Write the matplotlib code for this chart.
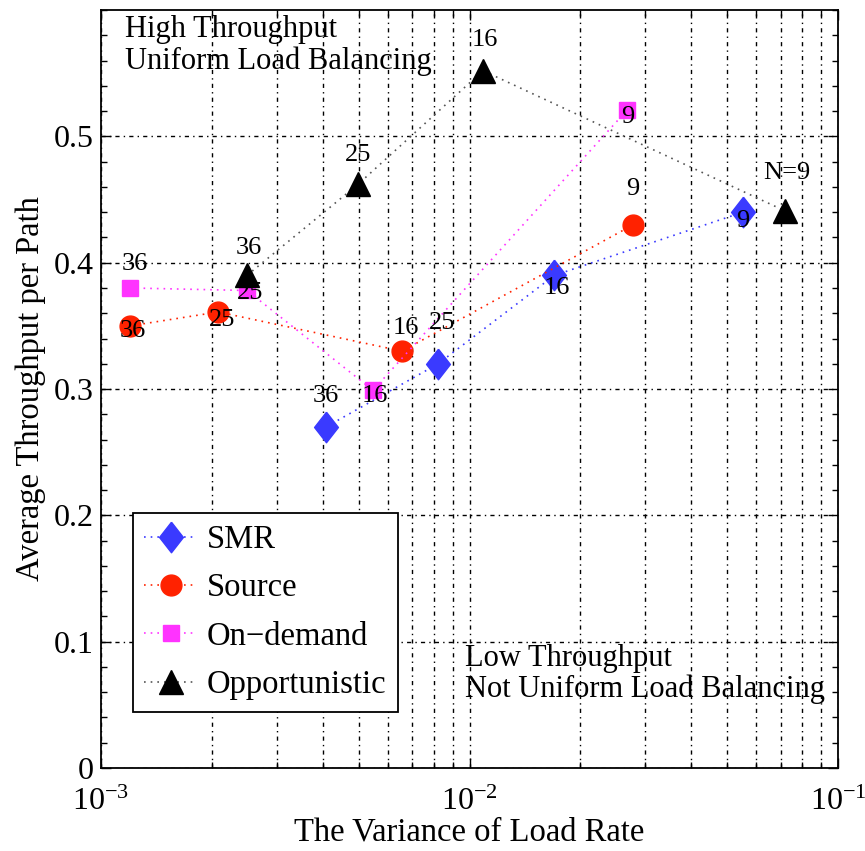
import numpy as np
import matplotlib.pyplot as plt
from matplotlib.ticker import LogLocator, MultipleLocator, NullFormatter

plt.rcParams['font.family'] = ['Liberation Serif', 'DejaVu Serif']
plt.rcParams['mathtext.fontset'] = 'custom'
plt.rcParams['mathtext.rm'] = 'Liberation Serif'
plt.rcParams['mathtext.it'] = 'Liberation Serif:italic'

# data
labels_n = ['36', '25', '16', '9']

smr_x = [0.00408, 0.00822, 0.0170, 0.0552]
smr_y = [0.270, 0.320, 0.390, 0.440]

source_x = [0.00120, 0.00208, 0.00656, 0.0278]
source_y = [0.350, 0.361, 0.330, 0.430]

ondemand_x = [0.00120, 0.00249, 0.00547, 0.0268]
ondemand_y = [0.380, 0.378, 0.299, 0.521]

opport_x = [0.00249, 0.00498, 0.01088, 0.0718]
opport_y = [0.390, 0.462, 0.552, 0.441]
opport_labels = ['36', '25', '16', 'N=9']

diamond = [(0, 1), (0.78, 0), (0, -1), (-0.78, 0), (0, 1)]

fig = plt.figure(figsize=(8.65, 8.51), dpi=100)
ax = fig.add_axes([0.1168, 0.0975, 0.852, 0.8907])

ax.set_axisbelow(True)
grid_ls = (0, (3, 3, 1, 3))
ax.grid(True, which='major', axis='both', color='k', linestyle=grid_ls, lw=1.0)
ax.grid(True, which='minor', axis='x', color='k', linestyle=grid_ls, lw=1.0)

line_ls = (0, (1, 3))
ax.plot(smr_x, smr_y, linestyle=line_ls, lw=1.2, color='#3a3aff',
        marker=diamond, markersize=22, markerfacecolor='#3a3aff',
        markeredgecolor='#3a3aff', label='SMR')
ax.plot(source_x, source_y, linestyle=line_ls, lw=1.2, color='#ff2200',
        marker='o', markersize=15, markerfacecolor='#ff2200',
        markeredgecolor='#ff2200', label='Source')
ax.plot(ondemand_x, ondemand_y, linestyle=line_ls, lw=1.2, color='#ff33ff',
        marker='s', markersize=12, markerfacecolor='#ff33ff',
        markeredgecolor='#ff33ff', label='On\u2212demand')
ax.plot(opport_x, opport_y, linestyle=line_ls, lw=1.2, color='#555555',
        marker='^', markersize=17, markerfacecolor='k',
        markeredgecolor='k', label='Opportunistic')

# label offsets in points (dx, dy)
smr_off = [(0, 22), (3, 29), (2, -9), (0, -6)]
source_off = [(2, -4), (3, -6), (3, 17), (0, 26)]
ondemand_off = [(3, 17), (2, -2), (1, -4), (0, -5)]
opport_off = [(1, 20), (0, 21), (1, 22), (1, 27)]

def _auto_label(xs, ys, texts, offs):
    for x, y, t, o in zip(xs, ys, texts, offs):
        ax.annotate(t, (x, y), xytext=o, textcoords='offset points',
                    ha='center', va='center', fontsize=19)

_auto_label(smr_x, smr_y, labels_n, smr_off)
_auto_label(source_x, source_y, labels_n, source_off)
_auto_label(ondemand_x, ondemand_y, labels_n, ondemand_off)
_auto_label(opport_x, opport_y, opport_labels, opport_off)

ax.text(0.0326, 0.993, 'High Throughput\nUniform Load Balancing',
        transform=ax.transAxes, ha='left', va='top', fontsize=22,
        linespacing=1.1)
ax.text(0.494, 0.164, 'Low Throughput\nNot Uniform Load Balancing',
        transform=ax.transAxes, ha='left', va='top', fontsize=22,
        linespacing=1.1)

ax.set_xscale('log')
ax.set_xlim(1e-3, 1e-1)
ax.set_ylim(0, 0.6)
ax.set_yticks([0, 0.1, 0.2, 0.3, 0.4, 0.5])
ax.set_yticklabels(['0', '0.1', '0.2', '0.3', '0.4', '0.5'])
ax.yaxis.set_minor_locator(MultipleLocator(0.02))
ax.xaxis.set_major_locator(LogLocator(base=10))
ax.xaxis.set_minor_locator(LogLocator(base=10, subs=np.arange(2, 10)))
ax.xaxis.set_minor_formatter(NullFormatter())

ax.tick_params(which='both', direction='in', top=True, right=True,
               labelsize=23, width=1.0)
ax.tick_params(which='major', length=7)
ax.tick_params(which='minor', length=4)
ax.tick_params(axis='x', pad=14)
ax.tick_params(axis='y', pad=5)
for s in ax.spines.values():
    s.set_linewidth(1.3)

ax.set_xlabel('The Variance of Load Rate', fontsize=23.5, labelpad=0)
ax.set_ylabel('Average Throughput per Path', fontsize=23.5, labelpad=6)

leg = ax.legend(loc='upper left', bbox_to_anchor=(0.0434, 0.3364),
                borderaxespad=0, fontsize=23.5, handlelength=1.6,
                handletextpad=0.3, labelspacing=0.55, borderpad=0.35,
                fancybox=False, framealpha=1, edgecolor='k')
leg.get_frame().set_linewidth(1.3)

plt.savefig('out.png')
plt.close(fig)
